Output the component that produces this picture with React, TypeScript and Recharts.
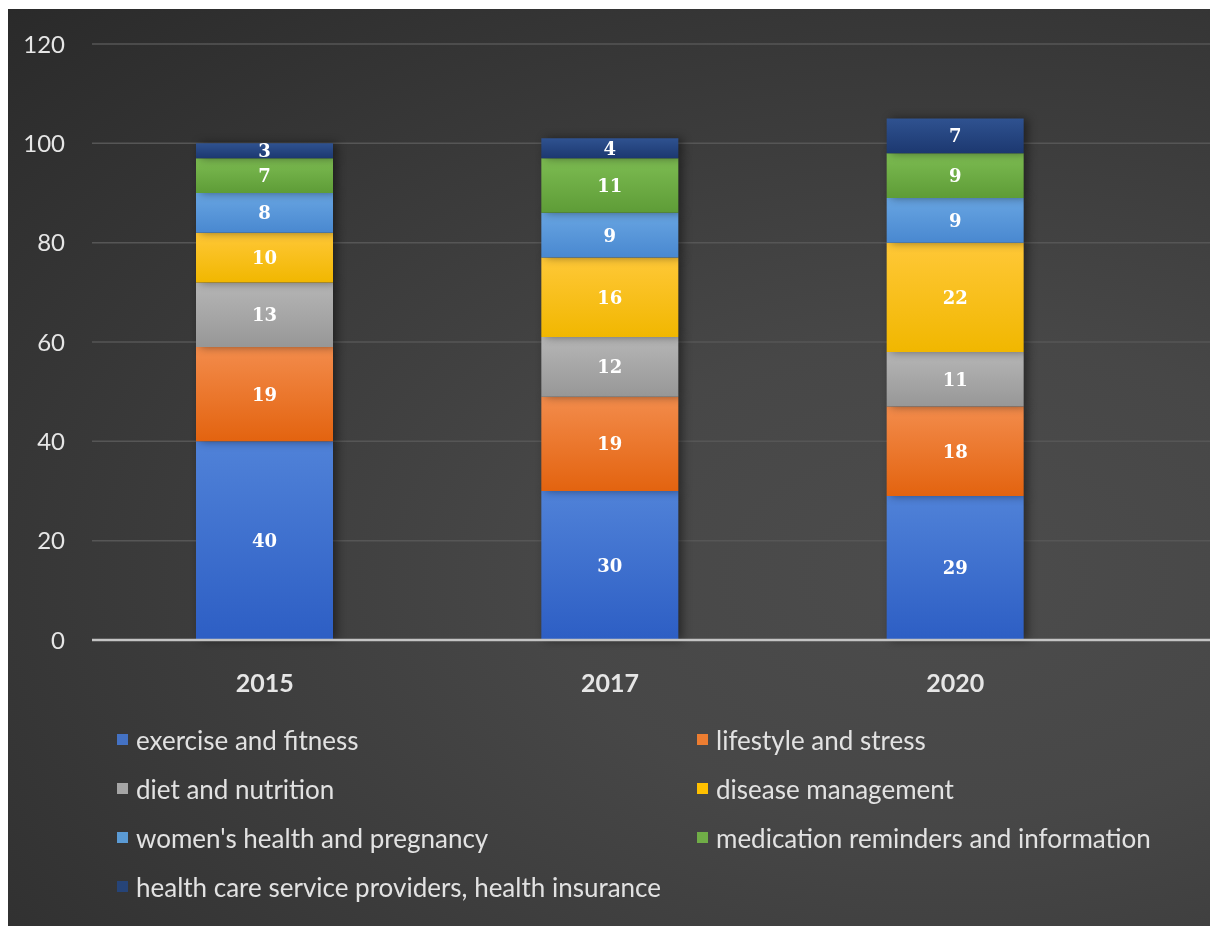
import React from 'react';
import { BarChart, Bar, XAxis, YAxis, CartesianGrid, Legend, LabelList } from 'recharts';

// categories and series values
const years = ['2015', '2017', '2020'];
const exerciseFitness = [40, 30, 29];
const lifestyleStress = [19, 19, 18];
const dietNutrition = [13, 12, 11];
const diseaseManagement = [10, 16, 22];
const womensHealth = [8, 9, 9];
const medicationReminders = [7, 11, 9];
const healthCareProviders = [3, 4, 7];
const yTicks = [0, 20, 40, 60, 80, 100, 120];

const series = [
  { key: 'exercise', name: 'exercise and fitness', values: exerciseFitness, color: '#4472c4', top: '#5082d8', bottom: '#2d5ec4' },
  { key: 'lifestyle', name: 'lifestyle and stress', values: lifestyleStress, color: '#ed7d31', top: '#f38c4c', bottom: '#e3630f' },
  { key: 'diet', name: 'diet and nutrition', values: dietNutrition, color: '#a5a5a5', top: '#b6b6b6', bottom: '#979797' },
  { key: 'disease', name: 'disease management', values: diseaseManagement, color: '#ffc000', top: '#ffc838', bottom: '#f1b700' },
  { key: 'women', name: "women's health and pregnancy", values: womensHealth, color: '#5b9bd5', top: '#68a5e2', bottom: '#4988d0' },
  { key: 'medication', name: 'medication reminders and information', values: medicationReminders, color: '#70ad47', top: '#7dbc52', bottom: '#5e9c37' },
  { key: 'healthcare', name: 'health care service providers, health insurance', values: healthCareProviders, color: '#264478', top: '#2f5290', bottom: '#1c3870' },
];

const data = years.map((year, i) => {
  const row: Record<string, string | number> = { year };
  series.forEach(s => { row[s.key] = s.values[i]; });
  return row;
});

function LegendGrid() {
  return (
    <div style={{
      display: 'grid', gridTemplateColumns: '580px 520px', paddingLeft: 109, paddingTop: 15,
      fontFamily: 'Lato, sans-serif', fontSize: 26, color: '#e2e2e2',
    }}>
      {series.map(s => (
        <div key={s.key} style={{ height: 49, display: 'flex', alignItems: 'center', whiteSpace: 'nowrap' }}>
          <span style={{ width: 11, height: 11, background: s.color, marginRight: 8, display: 'inline-block', flex: 'none' }} />
          <span>{s.name}</span>
        </div>
      ))}
    </div>
  );
}

export default function App() {
  return (
    <div style={{
      position: 'fixed', left: 8, top: 9, width: 1202, height: 917,
      background: 'radial-gradient(ellipse at 78% 62%, #4c4c4c 0%, #474747 30%, #3a3a3a 62%, #2a2a2a 100%)',
    }}>
      <BarChart width={1202} height={917} data={data} margin={{ top: 35, right: 0, bottom: 15, left: 0 }}>
        <defs>
          {series.map(s => (
            <linearGradient key={s.key} id={`grad-${s.key}`} x1="0" y1="0" x2="0" y2="1">
              <stop offset="0%" stopColor={s.top} />
              <stop offset="100%" stopColor={s.bottom} />
            </linearGradient>
          ))}
        </defs>
        <CartesianGrid vertical={false} stroke="#565656" strokeWidth={1.5} />
        <XAxis
          dataKey="year"
          height={60}
          padding={{ left: 0, right: 82 }}
          axisLine={{ stroke: '#c4c4c4', strokeWidth: 2.5 }}
          tickLine={false}
          tickMargin={28}
          tick={{ fill: '#e6e6e6', fontSize: 25, fontWeight: 700, fontFamily: 'Lato, sans-serif' }}
        />
        <YAxis
          width={84}
          domain={[0, 120]}
          ticks={yTicks}
          axisLine={false}
          tickLine={false}
          tickSize={0}
          tickMargin={27}
          tick={{ fill: '#e6e6e6', fontSize: 24, fontFamily: 'Lato, sans-serif' }}
        />
        <Legend verticalAlign="bottom" align="left" height={211} content={() => <LegendGrid />} />
        {series.map(s => (
          <Bar
            key={s.key}
            dataKey={s.key}
            name={s.name}
            stackId="a"
            fill={`url(#grad-${s.key})`}
            barSize={137}
            style={{ filter: 'drop-shadow(4px 0px 5px rgba(0,0,0,0.45))' }}
            isAnimationActive={false}
          >
            <LabelList
              dataKey={s.key}
              position="center"
              fill="#ffffff"
              style={{ fontFamily: '"DejaVu Serif", serif', fontWeight: 700, fontSize: 18 }}
            />
          </Bar>
        ))}
      </BarChart>
    </div>
  );
}
